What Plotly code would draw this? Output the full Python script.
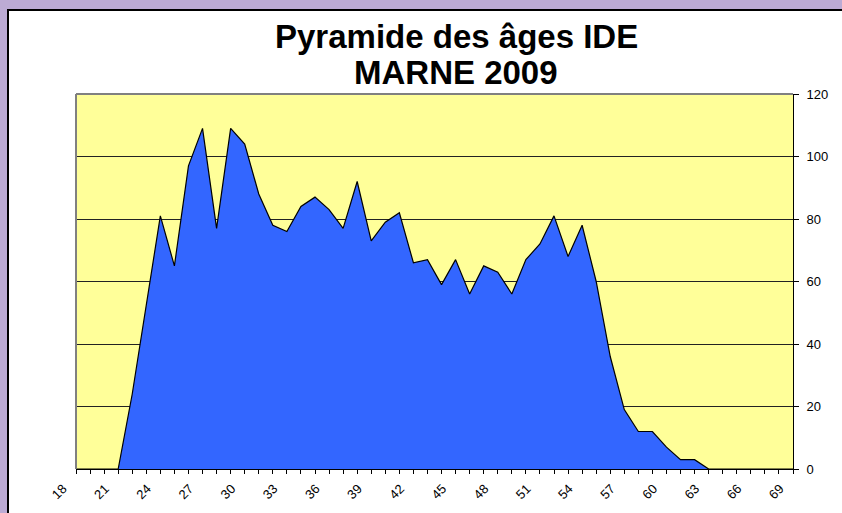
import plotly.graph_objects as go

ages = list(range(18, 70))
effectifs = [0, 0, 0, 0, 24, 52, 81, 65, 97, 109, 77, 109, 104, 88, 78, 76, 84, 87, 83, 77,
             92, 73, 79, 82, 66, 67, 59, 67, 56, 65, 63, 56, 67, 72, 81, 68, 78, 60, 36, 19,
             12, 12, 7, 3, 3, 0, 0, 0, 0, 0, 0, 0]
x_tick_vals = list(range(18, 70, 3))
x_tick_text = [str(v) for v in x_tick_vals]
y_tick_vals = [0, 20, 40, 60, 80, 100, 120]
title_line1 = "Pyramide des âges IDE"
title_line2 = "MARNE 2009"

W, H = 842, 513
L, R, T, B = 76, 793, 94, 469


def px(p):
    return (p - L) / (R - L)


def py(p):
    return (B - p) / (B - T)


fig = go.Figure()
fig.add_trace(go.Scatter(
    x=ages, y=effectifs, mode="lines", fill="tozeroy",
    fillcolor="#3366FF", line=dict(color="#000000", width=1.2),
    hoverinfo="x+y", showlegend=False,
))

font = "Liberation Sans, Arial, sans-serif"

fig.update_layout(
    width=W, height=H,
    margin=dict(l=L, r=W - R, t=T, b=H - B, pad=0),
    paper_bgcolor="#bcabd4",
    plot_bgcolor="rgba(0,0,0,0)",
    font=dict(family=font, size=13, color="#000000"),
    xaxis=dict(
        range=[18, 69], tickmode="array", tickvals=x_tick_vals, ticktext=x_tick_text,
        tickangle=-45, ticks="outside", ticklen=4, tickcolor="#000000",
        showline=True, linecolor="#000000", linewidth=1, showgrid=False, zeroline=False,
        minor=dict(dtick=1, tick0=18, ticks="outside", ticklen=4, tickcolor="#000000", showgrid=False),
        tickfont=dict(family=font, size=13), ticklabelshift=-13, ticklabelstandoff=2,
    ),
    yaxis=dict(
        range=[0, 120], side="right", tickmode="array", tickvals=y_tick_vals,
        ticks="outside", ticklen=5, tickcolor="#000000",
        showline=True, linecolor="#000000", linewidth=1,
        showgrid=True, gridcolor="#222222", gridwidth=1, zeroline=False,
        tickfont=dict(family=font, size=13), ticklabelstandoff=5,
    ),
    shapes=[
        dict(type="rect", xref="paper", yref="paper", layer="below",
             x0=px(8), x1=px(850), y0=py(525), y1=py(10),
             fillcolor="#FFFFFF", line=dict(color="#000000", width=2)),
        dict(type="rect", xref="paper", yref="paper", layer="below",
             x0=0, x1=1, y0=0, y1=1,
             fillcolor="#FFFF99", line=dict(width=0)),
        dict(type="line", xref="paper", yref="paper", layer="above",
             x0=0, x1=0, y0=0, y1=1, line=dict(color="#808080", width=2)),
        dict(type="line", xref="paper", yref="paper", layer="above",
             x0=0, x1=1, y0=1, y1=1, line=dict(color="#808080", width=2)),
    ],
    annotations=[
        dict(text="<b>" + title_line1 + "</b>", xref="paper", yref="paper",
             x=px(456), y=py(57), xanchor="center", yanchor="bottom", showarrow=False,
             font=dict(family=font, size=33, color="#000000")),
        dict(text="<b>" + title_line2 + "</b>", xref="paper", yref="paper",
             x=px(456), y=py(93), xanchor="center", yanchor="bottom", showarrow=False,
             font=dict(family=font, size=33, color="#000000")),
    ],
)

fig.write_html(
    "out.html",
    config={"displayModeBar": False},
    post_script="document.body.style.margin='0';document.body.style.background='#bcabd4';",
)
